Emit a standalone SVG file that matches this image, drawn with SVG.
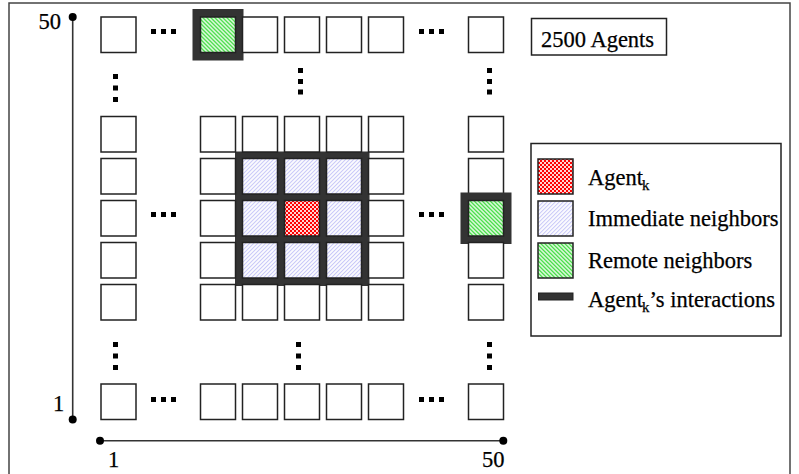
<svg xmlns="http://www.w3.org/2000/svg" width="799" height="474" viewBox="0 0 799 474">
  <defs>
    <!-- light blue "/" hatching -->
    <pattern id="hatchBlue" width="2.83" height="2.83" patternUnits="userSpaceOnUse" patternTransform="rotate(45)">
      <rect width="2.83" height="2.83" fill="#ffffff"/>
      <rect width="1.1" height="2.83" fill="#cacaf8"/>
    </pattern>
    <!-- green "\" hatching -->
    <pattern id="hatchGreen" width="2.83" height="2.83" patternUnits="userSpaceOnUse" patternTransform="rotate(-45)">
      <rect width="2.83" height="2.83" fill="#ffffff"/>
      <rect width="1.5" height="2.83" fill="#44dd44"/>
    </pattern>
    <!-- red checkerboard -->
    <pattern id="checkRed" width="4" height="4" patternUnits="userSpaceOnUse">
      <rect width="4" height="4" fill="#ffffff"/>
      <rect width="2" height="2" fill="#ff0000"/>
      <rect x="2" y="2" width="2" height="2" fill="#ff0000"/>
      <rect x="2" y="0" width="2" height="2" fill="#ff8080" opacity="0.35"/>
      <rect x="0" y="2" width="2" height="2" fill="#ff8080" opacity="0.35"/>
    </pattern>
  </defs>
  <style>
    .cell { fill: #ffffff; stroke: #222222; stroke-width: 1.5; }
    .blue { fill: url(#hatchBlue); stroke: #222222; stroke-width: 1.5; }
    .green { fill: url(#hatchGreen); stroke: #222222; stroke-width: 1.5; }
    .red { fill: url(#checkRed); stroke: #222222; stroke-width: 1.5; }
    .ring { fill: none; stroke: #333333; stroke-width: 8; }
    .dark { fill: #333333; }
    .dot { fill: #000000; }
    .axis { stroke: #333333; stroke-width: 1.6; fill: none; }
    .end { fill: #000000; }
    .box { fill: #ffffff; stroke: #222222; stroke-width: 1.5; }
    text { font-family: "Liberation Serif", "Times New Roman", serif; font-size: 22.5px; fill: #000000; stroke: #000000; stroke-width: 0.25; }
    .sub { font-size: 15px; }
  </style>

  <!-- outer frame -->
  <rect x="9" y="3" width="781" height="480" fill="#ffffff" stroke="#444444" stroke-width="1.5"/>

  <!-- axes -->
  <g id="axes">
    <line class="axis" x1="72.7" y1="17" x2="72.7" y2="419.5"/>
    <circle class="end" cx="72.7" cy="17" r="4"/>
    <circle class="end" cx="72.7" cy="419.5" r="4"/>
    <line class="axis" x1="100" y1="440.7" x2="503.3" y2="440.7"/>
    <circle class="end" cx="100" cy="440.7" r="4"/>
    <circle class="end" cx="503.3" cy="440.7" r="4"/>
    <text x="38.5" y="28.5">50</text>
    <text x="53" y="411">1</text>
    <text x="108" y="466.5">1</text>
    <text x="482" y="467">50</text>
  </g>

  <!-- interaction frame around Agent_k and its immediate neighbors -->
  <rect id="interaction-block" class="dark" x="235" y="151.5" width="134.5" height="134.5"/>

  <!-- grid of agents -->
  <g id="grid">
    <!-- top row -->
    <rect class="cell" x="101" y="17" width="35" height="35.5"/>
    <rect class="ring" x="196.5" y="13" width="43" height="43.5"/>
    <rect class="green" x="200.5" y="17" width="35" height="35.5"/>
    <rect class="cell" x="242.5" y="17" width="35" height="35.5"/>
    <rect class="cell" x="284.5" y="17" width="35" height="35.5"/>
    <rect class="cell" x="326.5" y="17" width="35" height="35.5"/>
    <rect class="cell" x="368.5" y="17" width="35" height="35.5"/>
    <rect class="cell" x="468.5" y="17" width="35" height="35.5"/>

    <!-- rows 116.5 .. 284.5, left column -->
    <rect class="cell" x="101" y="116.5" width="35" height="35.5"/>
    <rect class="cell" x="101" y="158.5" width="35" height="35.5"/>
    <rect class="cell" x="101" y="200.5" width="35" height="35.5"/>
    <rect class="cell" x="101" y="242.5" width="35" height="35.5"/>
    <rect class="cell" x="101" y="284.5" width="35" height="35.5"/>

    <!-- central block, row 116.5 -->
    <rect class="cell" x="200.5" y="116.5" width="35" height="35.5"/>
    <rect class="cell" x="242.5" y="116.5" width="35" height="35.5"/>
    <rect class="cell" x="284.5" y="116.5" width="35" height="35.5"/>
    <rect class="cell" x="326.5" y="116.5" width="35" height="35.5"/>
    <rect class="cell" x="368.5" y="116.5" width="35" height="35.5"/>
    <!-- row 158.5 -->
    <rect class="cell" x="200.5" y="158.5" width="35" height="35.5"/>
    <rect class="blue" x="242.5" y="158.5" width="35" height="35.5"/>
    <rect class="blue" x="284.5" y="158.5" width="35" height="35.5"/>
    <rect class="blue" x="326.5" y="158.5" width="35" height="35.5"/>
    <rect class="cell" x="368.5" y="158.5" width="35" height="35.5"/>
    <!-- row 200.5 -->
    <rect class="cell" x="200.5" y="200.5" width="35" height="35.5"/>
    <rect class="blue" x="242.5" y="200.5" width="35" height="35.5"/>
    <rect class="red" x="284.5" y="200.5" width="35" height="35.5"/>
    <rect class="blue" x="326.5" y="200.5" width="35" height="35.5"/>
    <rect class="cell" x="368.5" y="200.5" width="35" height="35.5"/>
    <!-- row 242.5 -->
    <rect class="cell" x="200.5" y="242.5" width="35" height="35.5"/>
    <rect class="blue" x="242.5" y="242.5" width="35" height="35.5"/>
    <rect class="blue" x="284.5" y="242.5" width="35" height="35.5"/>
    <rect class="blue" x="326.5" y="242.5" width="35" height="35.5"/>
    <rect class="cell" x="368.5" y="242.5" width="35" height="35.5"/>
    <!-- row 284.5 -->
    <rect class="cell" x="200.5" y="284.5" width="35" height="35.5"/>
    <rect class="cell" x="242.5" y="284.5" width="35" height="35.5"/>
    <rect class="cell" x="284.5" y="284.5" width="35" height="35.5"/>
    <rect class="cell" x="326.5" y="284.5" width="35" height="35.5"/>
    <rect class="cell" x="368.5" y="284.5" width="35" height="35.5"/>

    <!-- right column -->
    <rect class="cell" x="468.5" y="116.5" width="35" height="35.5"/>
    <rect class="cell" x="468.5" y="158.5" width="35" height="35.5"/>
    <rect class="ring" x="464.5" y="196.5" width="43" height="43.5"/>
    <rect class="green" x="468.5" y="200.5" width="35" height="35.5"/>
    <rect class="cell" x="468.5" y="242.5" width="35" height="35.5"/>
    <rect class="cell" x="468.5" y="284.5" width="35" height="35.5"/>

    <!-- bottom row -->
    <rect class="cell" x="101" y="384" width="35" height="35.5"/>
    <rect class="cell" x="200.5" y="384" width="35" height="35.5"/>
    <rect class="cell" x="242.5" y="384" width="35" height="35.5"/>
    <rect class="cell" x="284.5" y="384" width="35" height="35.5"/>
    <rect class="cell" x="326.5" y="384" width="35" height="35.5"/>
    <rect class="cell" x="368.5" y="384" width="35" height="35.5"/>
    <rect class="cell" x="468.5" y="384" width="35" height="35.5"/>
  </g>

  <!-- ellipsis marks -->
  <g id="ellipses">
    <!-- horizontal, top row -->
    <rect class="dot" x="151" y="29" width="5" height="5"/>
    <rect class="dot" x="161" y="29" width="5" height="5"/>
    <rect class="dot" x="171" y="29" width="5" height="5"/>
    <rect class="dot" x="419" y="29" width="5" height="5"/>
    <rect class="dot" x="429" y="29" width="5" height="5"/>
    <rect class="dot" x="439" y="29" width="5" height="5"/>
    <!-- horizontal, middle row -->
    <rect class="dot" x="151" y="212" width="5" height="5"/>
    <rect class="dot" x="161" y="212" width="5" height="5"/>
    <rect class="dot" x="171" y="212" width="5" height="5"/>
    <rect class="dot" x="419" y="212" width="5" height="5"/>
    <rect class="dot" x="429" y="212" width="5" height="5"/>
    <rect class="dot" x="439" y="212" width="5" height="5"/>
    <!-- horizontal, bottom row -->
    <rect class="dot" x="151" y="397" width="5" height="5"/>
    <rect class="dot" x="161" y="397" width="5" height="5"/>
    <rect class="dot" x="171" y="397" width="5" height="5"/>
    <rect class="dot" x="419" y="397" width="5" height="5"/>
    <rect class="dot" x="429" y="397" width="5" height="5"/>
    <rect class="dot" x="439" y="397" width="5" height="5"/>
    <!-- vertical, upper gap -->
    <rect class="dot" x="113" y="74" width="5" height="5"/>
    <rect class="dot" x="113" y="85.5" width="5" height="5"/>
    <rect class="dot" x="113" y="97" width="5" height="5"/>
    <rect class="dot" x="298" y="68" width="5" height="5"/>
    <rect class="dot" x="298" y="79" width="5" height="5"/>
    <rect class="dot" x="298" y="89.5" width="5" height="5"/>
    <rect class="dot" x="487" y="68" width="5" height="5"/>
    <rect class="dot" x="487" y="79" width="5" height="5"/>
    <rect class="dot" x="487" y="89.5" width="5" height="5"/>
    <!-- vertical, lower gap -->
    <rect class="dot" x="113" y="342" width="5" height="5"/>
    <rect class="dot" x="113" y="353.5" width="5" height="5"/>
    <rect class="dot" x="113" y="365" width="5" height="5"/>
    <rect class="dot" x="296" y="342" width="5" height="5"/>
    <rect class="dot" x="296" y="353.5" width="5" height="5"/>
    <rect class="dot" x="296" y="365" width="5" height="5"/>
    <rect class="dot" x="487" y="342" width="5" height="5"/>
    <rect class="dot" x="487" y="353.5" width="5" height="5"/>
    <rect class="dot" x="487" y="365" width="5" height="5"/>
  </g>

  <!-- population label -->
  <g id="population">
    <rect class="box" x="531.5" y="18.5" width="135" height="36.5"/>
    <text x="541" y="47">2500 Agents</text>
  </g>

  <!-- legend -->
  <g id="legend">
    <rect class="box" x="531" y="143.5" width="250" height="192.5"/>
    <rect class="red" x="538" y="159" width="35" height="35"/>
    <text x="588" y="185">Agent<tspan class="sub" dx="-1" dy="5">k</tspan></text>
    <rect class="blue" x="538" y="201" width="35" height="35"/>
    <text x="588" y="226">Immediate neighbors</text>
    <rect class="green" x="538" y="243" width="35" height="35"/>
    <text x="588" y="268">Remote neighbors</text>
    <rect x="538.5" y="293" width="34.5" height="7" fill="#333333" stroke="#222222" stroke-width="1"/>
    <text x="588" y="307">Agent<tspan class="sub" dx="-1" dy="5">k</tspan><tspan dy="-5">’s interactions</tspan></text>
  </g>
</svg>
